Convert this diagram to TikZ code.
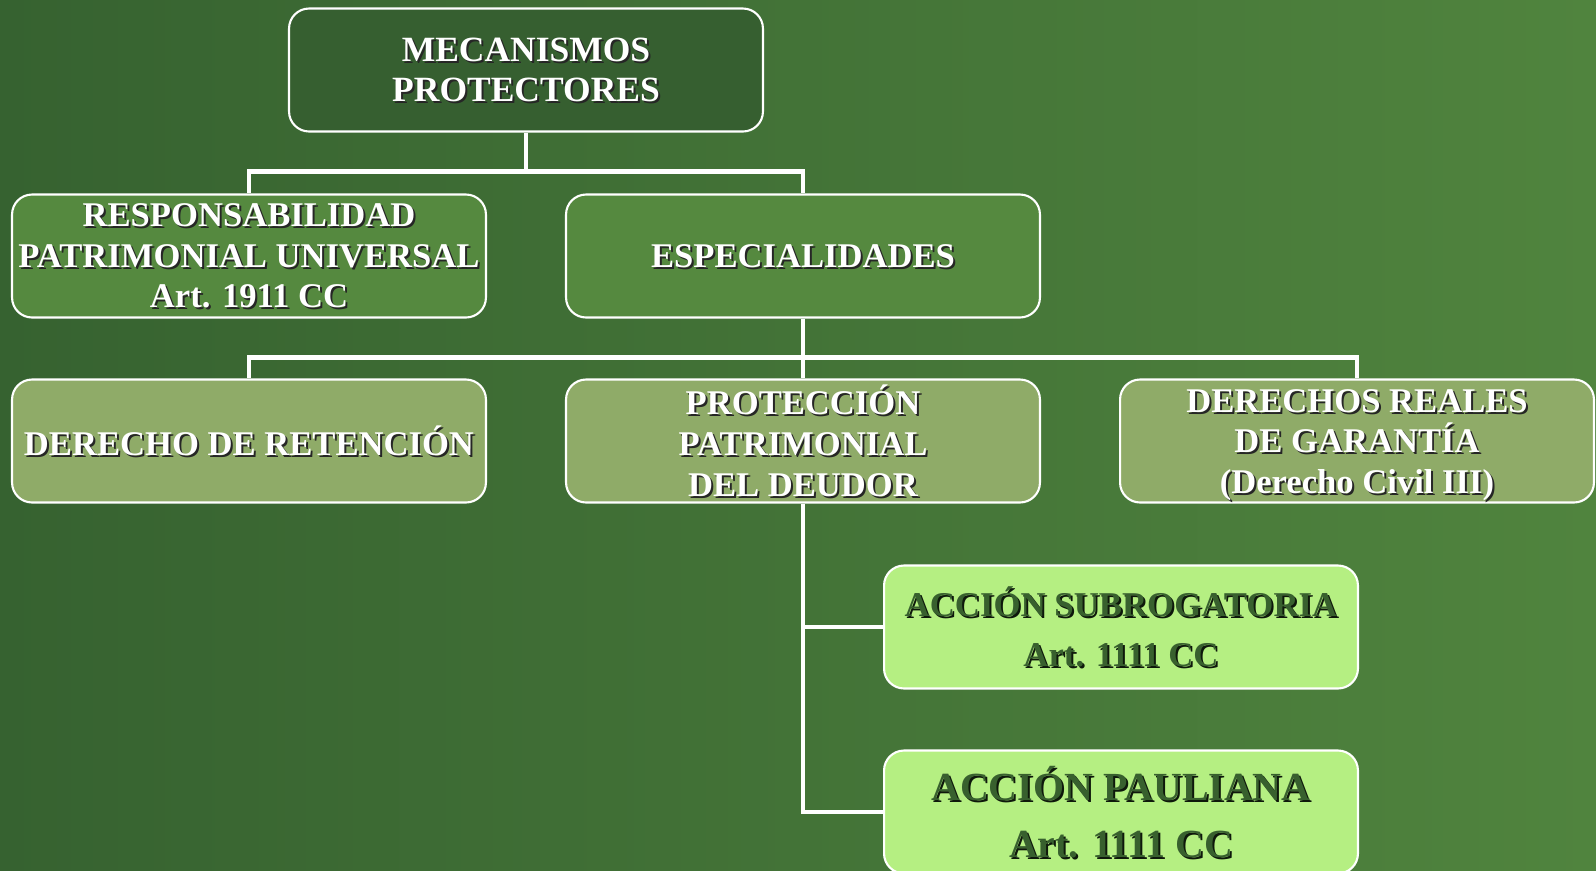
\documentclass[tikz,border=0pt]{standalone}
\usepackage{fontspec}
\setmainfont{Liberation Serif}
\usetikzlibrary{positioning,calc}

\definecolor{fondoizq}{RGB}{54,98,48}
\definecolor{fondoder}{RGB}{80,132,62}
\definecolor{oscuro}{RGB}{54,95,48}
\definecolor{medio}{RGB}{85,137,63}
\definecolor{claro}{RGB}{143,171,104}
\definecolor{lima}{RGB}{181,239,130}
\definecolor{verdetexto}{RGB}{56,96,46}

\tikzstyle{caja} = [rectangle, rounded corners=0.4cm, minimum width=9.48cm, minimum height=2.46cm, draw=white, line width=1.2pt]
\tikzstyle{conector} = [draw=white, line width=2.6pt]
\tikzstyle{textoblanco} = [align=center, text=white]
\tikzstyle{sombrablanco} = [align=center, text=black!85]
\tikzstyle{textolima} = [align=center, text=verdetexto]
\tikzstyle{sombralima} = [align=center, text=black!75!verdetexto]

\newcommand{\fuenteA}{\fontsize{20.2}{22.7}\selectfont\bfseries}
\newcommand{\fuenteB}{\fontsize{19.7}{23.2}\selectfont\bfseries}
\newcommand{\fuenteC}{\fontsize{19.8}{28.3}\selectfont\bfseries}
\newcommand{\fuenteD}{\fontsize{22.7}{32.3}\selectfont\bfseries}

% texto con sombra sobre una caja ya dibujada
\newcommand{\rotulo}[4]{%
  \node[sombra#2, font=#3] at ([shift={(2,2)}]#1.center) {#4};
  \node[texto#2, font=#3] at (#1.center) {#4};}

\begin{document}
\begin{tikzpicture}[x=0.02cm, y=-0.02cm]
\useasboundingbox (0,0) rectangle (1596,870);
\shade[left color=fondoizq, right color=fondoder] (0,0) rectangle (1596,870);

% cajas
\node (mec) at (526,70) [caja, fill=oscuro] {};
\node (resp) at (249,256) [caja, fill=medio] {};
\node (esp) at (803,256) [caja, fill=medio] {};
\node (ret) at (249,441) [caja, fill=claro] {};
\node (prot) at (803,441) [caja, fill=claro] {};
\node (dr) at (1357,441) [caja, fill=claro] {};
\node (sub) at (1121,627) [caja, fill=lima] {};
\node (paul) at (1121,812) [caja, fill=lima] {};
\coordinate (drt) at ([shift={(0,4)}]dr.center);

% conectores
\draw[conector] (mec.south) -- ++(0,39) coordinate (r1);
\draw[conector] (r1) -| (resp.north);
\draw[conector] (r1) -| (esp.north);
\draw[conector] (esp.south) -- ++(0,39) coordinate (r2);
\draw[conector] (r2) -| (ret.north);
\draw[conector] (r2) -- (prot.north);
\draw[conector] (r2) -| (dr.north);
\draw[conector] (prot.south) |- (sub.west);
\draw[conector] (prot.south) |- (paul.west);

% textos
\rotulo{mec}{blanco}{\fuenteA}{MECANISMOS\\PROTECTORES}
\rotulo{resp}{blanco}{\fuenteB}{RESPONSABILIDAD\\PATRIMONIAL UNIVERSAL\\Art. 1911 CC}
\rotulo{esp}{blanco}{\fuenteB}{ESPECIALIDADES}
\rotulo{ret}{blanco}{\fuenteB}{DERECHO DE RETENCIÓN}
\rotulo{prot}{blanco}{\fuenteB}{PROTECCIÓN\\PATRIMONIAL\\DEL DEUDOR}
\rotulo{drt}{blanco}{\fuenteB}{DERECHOS REALES\\DE GARANTÍA\\(Derecho Civil III)}
\rotulo{sub}{lima}{\fuenteC}{ACCIÓN SUBROGATORIA\\Art. 1111 CC}
\rotulo{paul}{lima}{\fuenteD}{ACCIÓN PAULIANA\\Art. 1111 CC}
\end{tikzpicture}
\end{document}
